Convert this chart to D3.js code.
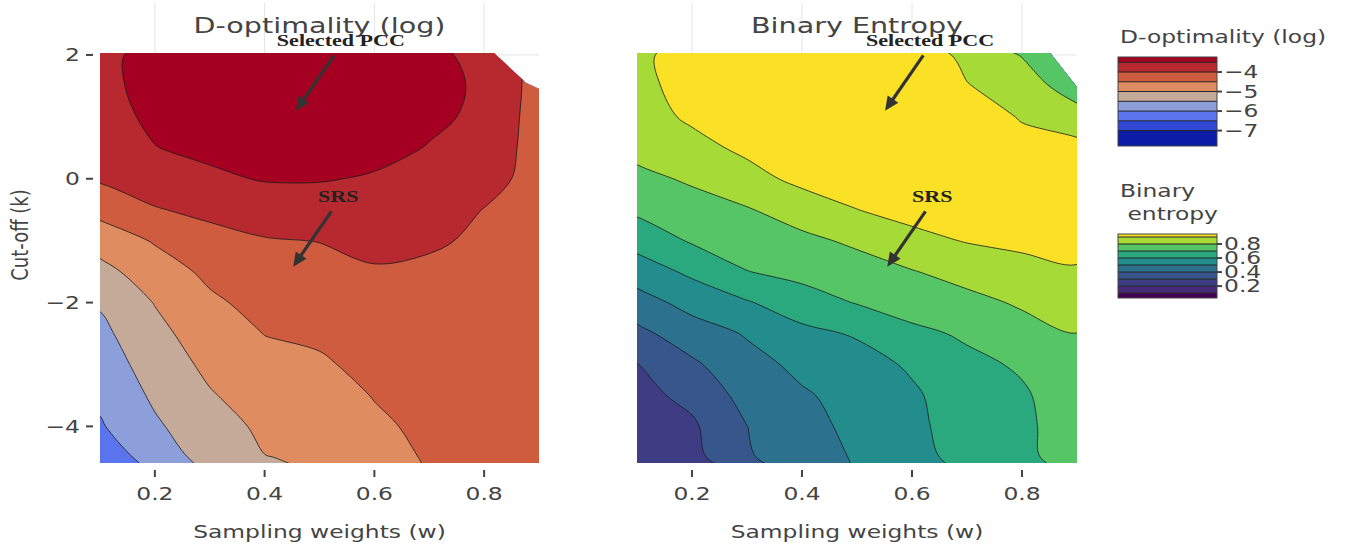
<!DOCTYPE html>
<html lang="en">
<head>
<meta charset="utf-8">
<title>D-optimality and binary entropy</title>
<script src="https://cdn.jsdelivr.net/npm/d3@7"></script>
<style>
  body { margin: 0; background: #fff; }
  text { font-family: "DejaVu Sans", Verdana, sans-serif; fill: #444; }
  .note { font-family: "Liberation Serif", "Times New Roman", serif; font-weight: bold; fill: #222; }
  .iso { fill: none; stroke: #1b1b1b; stroke-width: 0.8; }
  .grid line { stroke: #e4e4e4; stroke-width: 1; }
  .tick { stroke: #444; stroke-width: 2; }
</style>
</head>
<body>
<svg width="1359" height="548"></svg>
<script>
// sample grid: columns are sampling weights, rows are cut-offs (top row first)
var weights = [0.1, 0.2, 0.3, 0.4, 0.5, 0.6, 0.7, 0.8, 0.9];
var cutoffs = [2.0, 1.5, 1.0, 0.5, 0.0, -0.5, -1.0, -1.5, -2.0, -2.5, -3.0, -3.5, -4.0, -4.5];

// log D-optimality
var dOpt = [
  [-3.58, -3.40, -3.30, -3.25, -3.22, -3.28, -3.42, -3.60, -4.20],
  [-3.60, -3.38, -3.27, -3.20, -3.18, -3.22, -3.38, -3.56, -4.20],
  [-3.66, -3.42, -3.30, -3.22, -3.20, -3.25, -3.42, -3.58, -4.23],
  [-3.78, -3.51, -3.40, -3.33, -3.30, -3.37, -3.52, -3.70, -4.20],
  [-3.94, -3.76, -3.58, -3.47, -3.47, -3.54, -3.66, -3.85, -4.15],
  [-4.35, -4.03, -3.89, -3.77, -3.73, -3.71, -3.80, -4.01, -4.20],
  [-4.78, -4.46, -4.16, -4.03, -3.99, -3.88, -3.95, -4.06, -4.22],
  [-5.16, -4.73, -4.40, -4.19, -4.13, -4.04, -4.07, -4.16, -4.24],
  [-5.45, -4.98, -4.58, -4.35, -4.27, -4.15, -4.15, -4.20, -4.27],
  [-5.62, -5.14, -4.74, -4.49, -4.42, -4.26, -4.22, -4.24, -4.29],
  [-5.76, -5.28, -4.89, -4.64, -4.56, -4.37, -4.28, -4.28, -4.31],
  [-5.90, -5.42, -5.04, -4.77, -4.70, -4.48, -4.34, -4.31, -4.33],
  [-6.05, -5.57, -5.20, -4.91, -4.83, -4.58, -4.40, -4.35, -4.35],
  [-6.30, -5.80, -5.30, -5.01, -4.95, -4.70, -4.45, -4.38, -4.38]
];
var dLevels = [-7, -6.5, -6, -5.5, -5, -4.5, -4, -3.5];
var dColors = ["#0b1ca6", "#3048d4", "#5a74ee", "#8d9fda", "#c6aa99",
               "#df8c60", "#cf5c3f", "#b7292e", "#a50021"];

// binary entropy
var entropy = [
  [0.875, 0.950, 0.970, 0.980, 0.985, 0.975, 0.870, 0.795, 0.720],
  [0.870, 0.940, 0.965, 0.980, 0.990, 0.970, 0.905, 0.850, 0.748],
  [0.860, 0.915, 0.950, 0.970, 0.985, 0.975, 0.950, 0.893, 0.841],
  [0.830, 0.870, 0.920, 0.950, 0.970, 0.980, 0.960, 0.930, 0.930],
  [0.775, 0.813, 0.866, 0.925, 0.940, 0.965, 0.955, 0.940, 0.920],
  [0.719, 0.761, 0.793, 0.845, 0.899, 0.930, 0.935, 0.930, 0.920],
  [0.638, 0.710, 0.746, 0.778, 0.817, 0.874, 0.905, 0.915, 0.910],
  [0.547, 0.620, 0.698, 0.729, 0.758, 0.795, 0.838, 0.877, 0.897],
  [0.459, 0.533, 0.592, 0.656, 0.705, 0.739, 0.770, 0.813, 0.848],
  [0.374, 0.454, 0.508, 0.574, 0.610, 0.680, 0.712, 0.760, 0.799],
  [0.297, 0.383, 0.469, 0.521, 0.560, 0.614, 0.680, 0.710, 0.765],
  [0.270, 0.326, 0.435, 0.490, 0.530, 0.585, 0.655, 0.690, 0.745],
  [0.245, 0.285, 0.399, 0.480, 0.515, 0.580, 0.640, 0.685, 0.738],
  [0.225, 0.270, 0.385, 0.475, 0.505, 0.575, 0.625, 0.680, 0.740]
];
var hLevels = [0.1, 0.2, 0.3, 0.4, 0.5, 0.6, 0.7, 0.8, 0.9];
var hColors = ["#440154", "#472a7a", "#3e3d84", "#37578c", "#2c718e",
               "#228d8c", "#2aa97f", "#56c565", "#a5da37", "#fbe126"];

var xTicks = [0.2, 0.4, 0.6, 0.8];
var yTicks = [2, 0, -2, -4];
var dBarTicks = [-4, -5, -6, -7];
var hBarTicks = [0.8, 0.6, 0.4, 0.2];

// top-right corner where no runs exist (w, k)
var dMissing = [[0.818, 2.03], [0.876, 1.55], [0.9, 1.45]];
var hMissing = [[0.851, 2.03], [0.9, 1.48]];

var dNotes = [{label: "Selected PCC", w: 0.457, k: 1.10}, {label: "SRS", w: 0.452, k: -1.42}];
var hNotes = [{label: "Selected PCC", w: 0.551, k: 1.10}, {label: "SRS", w: 0.555, k: -1.42}];

var svg = d3.select("svg");
var SX = 1.3; // the figure is stretched sideways, so is its lettering

function place(sel, x, y, rot) {
  return sel.attr("transform", "translate(" + x + "," + y + ") scale(" + SX + ",1)" + (rot ? " rotate(" + rot + ")" : ""));
}

var y = d3.scaleLinear().domain([-4.59, 2.03]).range([462.9, 53.1]);
var smooth = d3.line().curve(d3.curveCatmullRomClosed.alpha(0.5));

function panel(p) {
  var x = d3.scaleLinear().domain([weights[0], weights[weights.length - 1]]).range([p.left, p.right]);
  var top = y.domain()[1], bottom = y.domain()[0];
  var g = svg.append("g");

  // gridlines show only above the data and in the empty corner
  var grid = g.append("g").attr("class", "grid");
  grid.selectAll("line.v").data(xTicks).join("line").attr("class", "v")
    .attr("x1", d => x(d)).attr("x2", d => x(d)).attr("y1", 3).attr("y2", y(bottom));
  grid.selectAll("line.h").data(yTicks).join("line").attr("class", "h")
    .attr("x1", p.left).attr("x2", p.right).attr("y1", d => y(d)).attr("y2", d => y(d));

  var outline = [[weights[0], top]].concat(p.missing, [[weights[weights.length - 1], bottom], [weights[0], bottom]]);
  svg.append("clipPath").attr("id", p.id).append("path")
    .attr("d", d3.line().x(d => x(d[0])).y(d => y(d[1]))(outline) + "Z");

  // grid cell coordinates -> pixels
  var dw = weights[1] - weights[0], dk = cutoffs[0] - cutoffs[1];
  function project(pt) {
    return [x(weights[0] + (pt[0] - 0.5) * dw), y(cutoffs[0] - (pt[1] - 0.5) * dk)];
  }
  function shape(c) {
    return c.coordinates.map(poly => poly.map(ring => smooth(ring.slice(0, -1).map(project))).join("")).join("");
  }
  var bands = d3.contours().size([weights.length, cutoffs.length]).thresholds(p.levels)(p.z.flat());

  var body = g.append("g").attr("clip-path", "url(#" + p.id + ")");
  body.append("rect")
    .attr("x", p.left).attr("y", y(top))
    .attr("width", p.right - p.left).attr("height", y(bottom) - y(top))
    .attr("fill", p.colors[0]);
  body.selectAll("path.band").data(bands).join("path").attr("class", "band")
    .attr("d", shape).attr("fill", (d, i) => p.colors[i + 1]);
  body.selectAll("path.iso").data(bands).join("path").attr("class", "iso").attr("d", shape);

  // x axis
  g.selectAll("line.xt").data(xTicks).join("line").attr("class", "tick xt")
    .attr("x1", d => x(d)).attr("x2", d => x(d)).attr("y1", 470).attr("y2", 477);
  g.selectAll("text.xt").data(xTicks).join("text").attr("class", "xt")
    .attr("text-anchor", "middle").style("font-size", "18px")
    .text(d => d3.format(".1f")(d))
    .each(function(d) { place(d3.select(this), x(d), 500); });
  place(g.append("text"), (p.left + p.right) / 2, 538)
    .attr("text-anchor", "middle").style("font-size", "18px")
    .text("Sampling weights (w)");

  if (p.yAxis) {
    g.selectAll("line.yt").data(yTicks).join("line").attr("class", "tick yt")
      .attr("x1", p.left - 14).attr("x2", p.left - 7).attr("y1", d => y(d)).attr("y2", d => y(d));
    g.selectAll("text.yt").data(yTicks).join("text").attr("class", "yt")
      .attr("text-anchor", "end").attr("dy", "0.35em").style("font-size", "18px")
      .text(d => d3.format("")(d))
      .each(function(d) { place(d3.select(this), p.left - 20, y(d)); });
    place(g.append("text"), 28, 235, -90)
      .attr("text-anchor", "middle").style("font-size", "18px")
      .text("Cut-off (k)");
  }

  place(g.append("text"), (p.left + p.right) / 2, 33)
    .attr("text-anchor", "middle").style("font-size", "22px")
    .text(p.title);

  // annotations with arrows
  p.notes.forEach(function(n) {
    var tx = x(n.w), ty = y(n.k);
    var lx = tx + 45, ly = ty - 65;
    var sx = tx + 45 * 0.85, sy = ty - 65 * 0.85;
    var len = Math.hypot(tx - sx, ty - sy), ux = (tx - sx) / len, uy = (ty - sy) / len;
    g.append("line")
      .attr("x1", sx).attr("y1", sy).attr("x2", tx - ux * 9).attr("y2", ty - uy * 9)
      .attr("stroke", "#333").attr("stroke-width", 3.2);
    var bx = tx - ux * 14, by = ty - uy * 14;
    g.append("path")
      .attr("d", "M" + tx + "," + ty + "L" + (bx - uy * 6.5) + "," + (by + ux * 6.5) +
                 "L" + (bx + uy * 6.5) + "," + (by - ux * 6.5) + "Z")
      .attr("fill", "#333");
    place(g.append("text"), lx, ly)
      .attr("class", "note").attr("text-anchor", "middle").style("font-size", "17px")
      .text(n.label);
  });
}

function colorbar(c) {
  var cy = d3.scaleLinear().domain(c.domain).range([c.bottom, c.top]);
  var edges = [c.domain[0]].concat(c.levels, [c.domain[1]]);
  var g = svg.append("g");
  g.selectAll("rect.band").data(c.colors).join("rect").attr("class", "band")
    .attr("x", 1118).attr("width", 99)
    .attr("y", (d, i) => cy(edges[i + 1])).attr("height", (d, i) => cy(edges[i]) - cy(edges[i + 1]))
    .attr("fill", d => d);
  g.selectAll("line.lv").data(c.levels).join("line").attr("class", "lv")
    .attr("x1", 1118).attr("x2", 1217).attr("y1", d => cy(d)).attr("y2", d => cy(d))
    .attr("stroke", "#222").attr("stroke-width", 1);
  g.append("rect").attr("x", 1118).attr("y", c.top).attr("width", 99).attr("height", c.bottom - c.top)
    .attr("fill", "none").attr("stroke", "#444").attr("stroke-width", 1);
  g.selectAll("line.bt").data(c.ticks).join("line").attr("class", "tick bt")
    .attr("x1", 1217).attr("x2", 1222).attr("y1", d => cy(d)).attr("y2", d => cy(d));
  g.selectAll("text.bt").data(c.ticks).join("text").attr("class", "bt")
    .attr("dy", "0.35em").style("font-size", "18px")
    .text(c.format)
    .each(function(d) { place(d3.select(this), 1224, cy(d)); });
  c.title.forEach(function(t) {
    place(g.append("text"), t.x, t.y).style("font-size", "18px").attr("xml:space", "preserve").text(t.text);
  });
}

panel({id: "clip-d", left: 100, right: 539, z: dOpt, levels: dLevels, colors: dColors,
       missing: dMissing, notes: dNotes, title: "D-optimality (log)", yAxis: true});
panel({id: "clip-h", left: 637, right: 1077, z: entropy, levels: hLevels, colors: hColors,
       missing: hMissing, notes: hNotes, title: "Binary Entropy", yAxis: false});

colorbar({top: 57, bottom: 146, domain: [-7.79, -3.23], levels: dLevels, colors: dColors,
          ticks: dBarTicks, format: d => d3.format("")(d),
          title: [{text: "D-optimality (log)", x: 1120, y: 43}]});
colorbar({top: 234, bottom: 298, domain: [0.03, 0.943], levels: hLevels, colors: hColors,
          ticks: hBarTicks, format: d => d3.format(".1f")(d),
          title: [{text: "Binary", x: 1120, y: 197}, {text: " entropy", x: 1120, y: 220}]});
</script>
</body>
</html>
